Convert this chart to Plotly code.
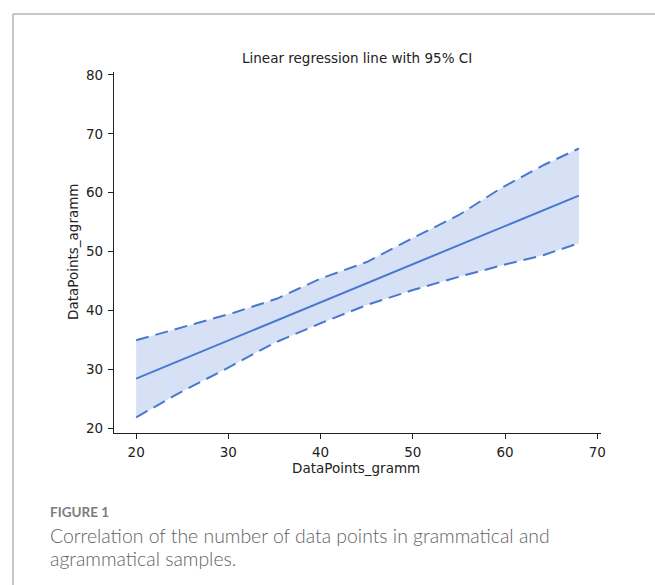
import plotly.graph_objects as go

# Regression fit (endpoints of the fitted line)
fit_x = [20, 68]
fit_y = [28.4, 59.5]

# 95% confidence band, sampled along DataPoints_gramm
ci_x = [20, 25.9, 30.6, 35.3, 40, 45, 49.9, 55, 59.5, 64.2, 68]
ci_upper = [34.9, 37.5, 39.6, 42.0, 45.4, 48.2, 52.2, 56.2, 60.7, 64.7, 67.5]
ci_lower_x = [20, 24.6, 29.8, 34.9, 40, 45, 49.9, 55, 59.8, 64.2, 68]
ci_lower = [21.8, 25.9, 30.1, 34.4, 37.8, 40.9, 43.4, 45.7, 47.7, 49.4, 51.4]

x_ticks = [20, 30, 40, 50, 60, 70]
y_ticks = [20, 30, 40, 50, 60, 70, 80]

LINE = "#4878d0"
FILL = "rgba(72,120,208,0.22)"
AXIS_FONT = "DejaVu Sans"
TXT = 13.5

W, H = 655, 585
L, R, T, B = 114, 54, 72, 152
pw, ph = W - L - R, H - T - B


def px(x):
    return (x - L) / pw


def py(y):
    return (H - B - y) / ph


fig = go.Figure()

# shaded confidence band
fig.add_trace(go.Scatter(
    x=ci_x + ci_lower_x[::-1],
    y=ci_upper + ci_lower[::-1],
    fill="toself", fillcolor=FILL, line=dict(width=0),
    mode="lines", hoverinfo="skip", showlegend=False,
))
# dashed band edges
fig.add_trace(go.Scatter(x=ci_x, y=ci_upper, mode="lines",
                         line=dict(color=LINE, width=2, dash="13px,7px"),
                         showlegend=False))
fig.add_trace(go.Scatter(x=ci_lower_x, y=ci_lower, mode="lines",
                         line=dict(color=LINE, width=2, dash="13px,7px"),
                         showlegend=False))
# fitted regression line
fig.add_trace(go.Scatter(x=fit_x, y=fit_y, mode="lines",
                         line=dict(color=LINE, width=2), showlegend=False))

axis_common = dict(
    showgrid=False, zeroline=False, showline=True, linecolor="#222",
    linewidth=1.3, ticks="outside", ticklen=5, tickwidth=1.1, tickcolor="#222",
    tickfont=dict(family=AXIS_FONT, size=TXT, color="#222"), mirror=False,
)
fig.update_xaxes(range=[17.6, 70.4], tickvals=x_ticks, ticklabelstandoff=2,
                 **axis_common)
fig.update_yaxes(range=[19.15, 80.5], tickvals=y_ticks, ticklabelstandoff=2,
                 **axis_common)

# outer figure frame (top and left rules)
frame = dict(color="#b4b4b4", width=1.5)
fig.add_shape(type="line", xref="paper", yref="paper",
              x0=px(13), x1=px(660), y0=py(14), y1=py(14), line=frame)
fig.add_shape(type="line", xref="paper", yref="paper",
              x0=px(13), x1=px(13), y0=py(14), y1=py(590), line=frame)

ann = []
ann.append(dict(text="Linear regression line with 95% CI", x=px(357), y=py(58),
                xanchor="center", yanchor="middle",
                font=dict(family=AXIS_FONT, size=TXT, color="#222")))
ann.append(dict(text="DataPoints_gramm", x=px(356), y=py(468),
                xanchor="center", yanchor="middle",
                font=dict(family=AXIS_FONT, size=TXT, color="#222")))
ann.append(dict(text="DataPoints_agramm", x=px(73), y=py(252), textangle=-90,
                xanchor="center", yanchor="middle",
                font=dict(family=AXIS_FONT, size=TXT, color="#222")))
ann.append(dict(text="<b>FIGURE 1</b>", x=px(48), y=py(512),
                xanchor="left", yanchor="middle",
                font=dict(family="Lato", size=13.5, color="#7c7c7c")))
ann.append(dict(text="Correlation of the number of data points in grammatical and",
                x=px(48), y=py(535), xanchor="left", yanchor="middle",
                font=dict(family="Lato", size=19.4, weight=300, color="#626262")))
ann.append(dict(text="agrammatical samples.",
                x=px(48), y=py(558), xanchor="left", yanchor="middle",
                font=dict(family="Lato", size=19.4, weight=300, color="#626262")))
for a in ann:
    fig.add_annotation(xref="paper", yref="paper", showarrow=False, **a)

fig.update_layout(
    width=W, height=H,
    margin=dict(l=L, r=R, t=T, b=B),
    paper_bgcolor="white", plot_bgcolor="white",
    showlegend=False,
)

fig.write_html("out.html")
